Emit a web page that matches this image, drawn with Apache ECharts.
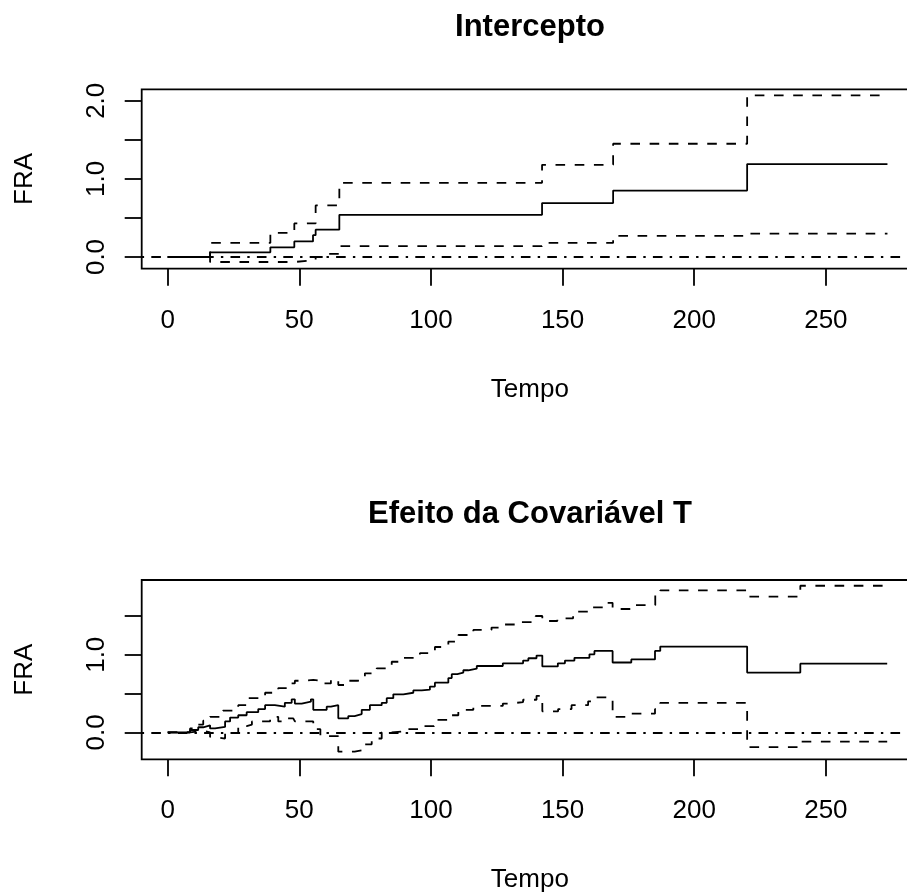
<!DOCTYPE html>
<html>
<head>
<meta charset="utf-8">
<script src="https://cdn.jsdelivr.net/npm/echarts@6/dist/echarts.min.js"></script>
<style>
  html, body { margin: 0; padding: 0; background: #fff; }
  #chart { width: 907px; height: 896px; }
</style>
</head>
<body>
<div id="chart"></div>
<script>
  // Painel 1: Intercepto (função de regressão acumulada e bandas)
  const interTime = [0, 16.1, 39, 48.1, 55.2, 56.2, 65.2, 142.2, 169.2, 220.1, 273.4];
  const interEst = [0, 0.06, 0.124, 0.2, 0.28, 0.35, 0.54, 0.69, 0.85, 1.19, 1.19];
  const interUpTime = [0, 16.1, 39, 48.1, 56.2, 65.2, 142.2, 169.2, 220.1, 273.4];
  const interUp = [0, 0.18, 0.31, 0.43, 0.66, 0.95, 1.18, 1.45, 2.07, 2.07];
  const interLowTime = [0, 16.1, 48.1, 56.2, 61, 65.2, 142.2, 169.2, 220.1, 273.4];
  const interLow = [0, -0.064, -0.04, 0, 0.04, 0.14, 0.18, 0.27, 0.3, 0.3];

  // Painel 2: Efeito da covariável T
  const covTime = [0, 8.5, 11.6, 13.5, 16.1, 18, 21.8, 23.7, 26.8, 30, 34.4, 37, 40.7, 44.5, 47.1, 48.3,
    50.9, 54.4, 55.3, 60.4, 62, 64.8, 68.6, 71, 73.7, 76.8, 81.3, 83.2, 85.7, 89.5, 93.3, 96.5, 99.6,
    101.5, 106.6, 107.9, 110, 112.3, 114.2, 117.4, 127.3, 135, 137, 140.1, 142.3, 148.2, 150.9, 154.5,
    160.2, 162.1, 169, 176.1, 185.1, 187.1, 220.1, 240.3, 273.3];
  const covEst = [0, 0.03, 0.065, 0.09, 0.05, 0.07, 0.14, 0.19, 0.22, 0.26, 0.3, 0.35, 0.33, 0.38, 0.425, 0.37,
    0.395, 0.425, 0.29, 0.33, 0.35, 0.18, 0.21, 0.235, 0.29, 0.35, 0.38, 0.44, 0.49, 0.51, 0.54, 0.55, 0.59,
    0.64, 0.7, 0.75, 0.77, 0.8, 0.82, 0.855, 0.89, 0.925, 0.955, 0.99, 0.85, 0.89, 0.925, 0.96,
    1.005, 1.05, 0.9, 0.94, 1.05, 1.105, 0.77, 0.885, 0.885];
  const covUpTime = [0, 8.5, 11.6, 13.5, 16.1, 21, 26.8, 30.5, 37, 42, 46.4, 48.3, 51, 55.3, 58, 62, 64.8,
    68.6, 72, 74.9, 79.4, 85.1, 89.5, 95.8, 101.5, 106.6, 110.4, 116.1, 123, 127.3, 134.5, 139.8, 142.3,
    148, 154, 160.2, 166, 169, 176.1, 185.2, 187.1, 220.1, 240.3, 273.3];
  const covUp = [0, 0.05, 0.1, 0.15, 0.2, 0.28, 0.35, 0.44, 0.51, 0.57, 0.63, 0.665, 0.675, 0.665, 0.63, 0.68, 0.61,
    0.665, 0.675, 0.76, 0.825, 0.91, 0.96, 1.02, 1.1, 1.17, 1.255, 1.32, 1.35, 1.39, 1.42, 1.5, 1.435,
    1.47, 1.555, 1.61, 1.67, 1.59, 1.64, 1.77, 1.83, 1.75, 1.89, 1.89];
  const covLowTime = [0, 8.5, 11.6, 13.5, 16.1, 18, 21.8, 26.8, 30, 32, 38.9, 42, 43.9, 47.7, 48.3, 50.9,
    55.3, 58, 64.8, 71, 74.3, 77.5, 81.3, 85.1, 89.5, 95.8, 101.2, 106.6, 110.4, 116.1, 127.3, 130, 135,
    140.1, 142.3, 148.3, 153.4, 159.7, 162.5, 169, 176.1, 185.1, 187.1, 220.1, 240.3, 273.3];
  const covLow = [0, 0.01, 0.02, 0, -0.06, -0.08, -0.01, 0.08, 0.1, 0.14, 0.2, 0.14, 0.18, 0.2, 0.14, 0.14,
    0.04, -0.05, -0.25, -0.23, -0.155, -0.08, 0, 0.01, 0.04, 0.08, 0.16, 0.22, 0.29, 0.34, 0.37, 0.39, 0.42,
    0.47, 0.27, 0.3, 0.35, 0.4, 0.45, 0.2, 0.24, 0.3, 0.38, -0.19, -0.12, -0.12];

  const xTicks = [0, 50, 100, 150, 200, 250];
  const interYTicks = [0, 0.5, 1, 1.5, 2];
  const interYLabels = [0, 1, 2];
  const covYTicks = [0, 0.5, 1, 1.5];
  const covYLabels = [0, 1];
  const refLevel = 0;

  const FONT = "'Liberation Sans', Arial, sans-serif";
  const LW = 1.8;
  const DASHED = [9.6, 9.6];
  const DOTDASH = [2.4, 7.2, 9.6, 7.2];

  const pairs = (xs, ys) => xs.map((x, i) => [x, ys[i]]);

  const xAxisBase = (gridIndex) => ({
    type: 'value',
    gridIndex,
    min: -9.87,
    max: 285,
    name: 'Tempo',
    nameLocation: 'middle',
    nameGap: 108,
    nameTextStyle: { fontFamily: FONT, fontSize: 26, color: '#000' },
    axisLine: { show: false, onZero: false },
    splitLine: { show: false },
    axisTick: {
      show: true,
      length: 17,
      customValues: xTicks,
      lineStyle: { color: '#000', width: LW },
    },
    axisLabel: {
      customValues: xTicks,
      margin: 39,
      fontFamily: FONT,
      fontSize: 26,
      color: '#000',
      formatter: (v) => String(v),
    },
  });

  const yAxisBase = (gridIndex, min, max, ticks, labels) => ({
    type: 'value',
    gridIndex,
    min,
    max,
    name: 'FRA',
    nameLocation: 'middle',
    nameRotate: 90,
    nameGap: 104,
    nameTextStyle: { fontFamily: FONT, fontSize: 26, color: '#000' },
    axisLine: { show: false, onZero: false },
    splitLine: { show: false },
    axisTick: {
      show: true,
      length: 17,
      customValues: ticks,
      lineStyle: { color: '#000', width: LW },
    },
    axisLabel: {
      customValues: labels,
      rotate: 90,
      margin: 32,
      fontFamily: FONT,
      fontSize: 26,
      color: '#000',
      formatter: (v) => v.toFixed(1),
    },
  });

  const stepLine = (name, data, axisIndex, type, withRef) => {
    const s = {
      name,
      type: 'line',
      step: 'end',
      xAxisIndex: axisIndex,
      yAxisIndex: axisIndex,
      data,
      showSymbol: false,
      symbol: 'none',
      clip: true,
      silent: true,
      lineStyle: { color: '#000', width: LW, type, cap: 'butt' },
    };
    if (withRef) {
      s.markLine = {
        silent: true,
        symbol: 'none',
        label: { show: false },
        lineStyle: { color: '#000', width: LW, type: DOTDASH, cap: 'butt' },
        data: [{ yAxis: refLevel }],
      };
    }
    return s;
  };

  const chart = echarts.init(document.getElementById('chart'), null, { renderer: 'canvas' });

  chart.setOption({
    animation: false,
    backgroundColor: '#fff',
    textStyle: { fontFamily: FONT },
    graphic: [
      {
        type: 'text',
        x: 530,
        y: 27,
        style: { text: 'Intercepto', font: "bold 31px 'Liberation Sans', Arial, sans-serif", fill: '#000', align: 'center', verticalAlign: 'middle' },
      },
      {
        type: 'text',
        x: 530,
        y: 514,
        style: { text: 'Efeito da Covariável T', font: "bold 31px 'Liberation Sans', Arial, sans-serif", fill: '#000', align: 'center', verticalAlign: 'middle' },
      },
    ],
    grid: [
      { left: 141.7, top: 89.3, width: 776.3, height: 179.4, outerBoundsMode: 'none', show: true, borderColor: '#000', borderWidth: LW, backgroundColor: 'transparent' },
      { left: 141.7, top: 580, width: 776.3, height: 179.3, outerBoundsMode: 'none', show: true, borderColor: '#000', borderWidth: LW, backgroundColor: 'transparent' },
    ],
    xAxis: [xAxisBase(0), xAxisBase(1)],
    yAxis: [
      yAxisBase(0, -0.1498, 2.147, interYTicks, interYLabels),
      yAxisBase(1, -0.348, 1.964, covYTicks, covYLabels),
    ],
    series: [
      stepLine('Intercepto', pairs(interTime, interEst), 0, 'solid', true),
      stepLine('Intercepto sup', pairs(interUpTime, interUp), 0, DASHED, false),
      stepLine('Intercepto inf', pairs(interLowTime, interLow), 0, DASHED, false),
      stepLine('T', pairs(covTime, covEst), 1, 'solid', true),
      stepLine('T sup', pairs(covUpTime, covUp), 1, DASHED, false),
      stepLine('T inf', pairs(covLowTime, covLow), 1, DASHED, false),
    ],
  });
</script>
</body>
</html>
